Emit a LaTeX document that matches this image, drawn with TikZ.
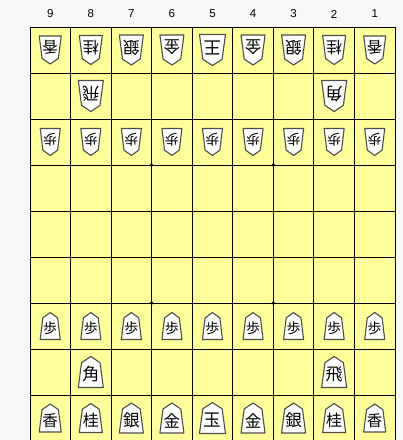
\documentclass[tikz,border=0pt]{standalone}
\usepackage{fontspec}
\setmainfont{Liberation Sans}
\newfontfamily\jp{Noto Sans CJK JP}
\usetikzlibrary{calc}
\definecolor{ban}{HTML}{FFFF99}
\definecolor{haikei}{HTML}{F8F8F8}

\tikzset{
  masu/.style={draw=black, line width=0.9pt},
  koma/.style={fill=white, draw=black!70, line width=1.1pt, line join=round},
  moji/.style={inner sep=0pt, transform shape},
}

% \koma{name}{col}{row}{char}{w}{h}{font size}{rotation}
\newcommand{\koma}[8]{%
  \begin{scope}[shift={(395-#2*40.56+20.28, 27+#3*46-23)}, rotate=#8]
    \draw[koma] (0,-#6/2) -- (#5*0.37,-#6*0.3) -- (#5/2,#6/2)
      -- (-#5/2,#6/2) -- (-#5*0.37,-#6*0.3) -- cycle;
    \node[moji, font=\jp\fontsize{#7}{#7}\selectfont] (#1) at (0,2.5) {#4};
  \end{scope}}

\begin{document}
\begin{tikzpicture}[x=1pt, y=-1pt]
    \useasboundingbox (0,0) rectangle (403,440);
    \fill[haikei] (0,0) rectangle (403,440);
    \fill[ban] (30,27) rectangle (395,441);

    % board
    \foreach \i in {0,...,9}
        \draw[masu] (30+\i*40.56,27) -- (30+\i*40.56,441);
    \foreach \j in {0,...,9}
        \draw[masu] (30,27+\j*46) -- (395,27+\j*46);
    \foreach \p in {(151.7,165), (273.3,165), (151.7,303), (273.3,303)}
        \fill \p circle (1.8);

    % column numbers
    \foreach \c in {1,...,9}
        \node[font=\fontsize{11.5}{13}\selectfont] (n\c) at (395-\c*40.56+20.28, 14) {\c};

    % back rows
    \foreach \c/\k/\w/\h/\f in {9/香/22/28/15.5, 8/桂/23/29/16, 7/銀/24/30/16.5,
            6/金/24/30/16.5, 4/金/24/30/16.5, 3/銀/24/30/16.5, 2/桂/23/29/16, 1/香/22/28/15.5} {
        \koma{g1\c}{\c}{1}{\k}{\w}{\h}{\f}{180}
        \koma{s9\c}{\c}{9}{\k}{\w}{\h}{\f}{0}
    }
    \koma{g15}{5}{1}{王}{26}{31}{17.5}{180}
    \koma{s95}{5}{9}{玉}{26}{31}{17.5}{0}

    % rook and bishop
    \koma{g28}{8}{2}{飛}{25}{31}{17}{180}
    \koma{g22}{2}{2}{角}{25}{31}{17}{180}
    \koma{s88}{8}{8}{角}{25}{31}{17}{0}
    \koma{s82}{2}{8}{飛}{25}{31}{17}{0}

    % pawns
    \foreach \c in {1,...,9} {
        \koma{g3\c}{\c}{3}{歩}{20}{27}{14}{180}
        \koma{s7\c}{\c}{7}{歩}{20}{27}{14}{0}
    }
\end{tikzpicture}
\end{document}
